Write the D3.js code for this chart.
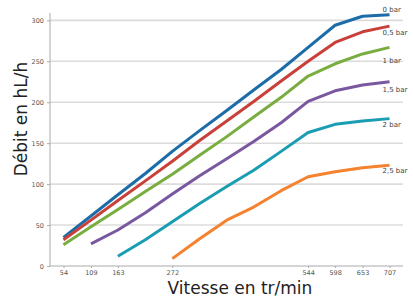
<!DOCTYPE html>
<html lang="fr">
<head>
<meta charset="UTF-8">
<title>Débit en hL/h</title>
<script src="https://d3js.org/d3.v7.min.js"></script>
<style>
    body { margin: 0; background: #fff; }
    .tick-label { font: 6.5px "DejaVu Sans", sans-serif; fill: #555; }
    .series-label { font: 7px "DejaVu Sans", sans-serif; fill: #444; }
    .axis-title { font: 17px "DejaVu Sans", sans-serif; fill: #222; }
</style>
</head>
<body>
<svg width="413" height="299"></svg>
<script>
// speeds (tr/min) and flows (hL/h) per pressure
const speeds = [54, 109, 163, 218, 272, 326, 381, 435, 490, 544, 598, 653, 707];
const xTickValues = [54, 109, 163, 272, 544, 598, 653, 707];
const yTickValues = [0, 50, 100, 150, 200, 250, 300];
const seriesNames = ["0 bar", "0,5 bar", "1 bar", "1,5 bar", "2 bar", "2,5 bar"];
const bar0  = [35, 61, 87, 113, 140, 165, 190, 215, 240, 267, 294, 305, 307];
const bar05 = [32, 56, 80, 104, 128, 153, 177, 201, 226, 250, 273, 286, 293];
const bar1  = [26, 48, 69, 91, 112, 135, 158, 182, 206, 232, 247, 259, 267];
const bar15 = [null, 27, 44, 65, 88, 110, 131, 152, 175, 201, 214, 221, 225];
const bar2  = [null, null, 12, 32, 54, 76, 97, 117, 140, 163, 173, 177, 180];
const bar25 = [null, null, null, null, 9, 33, 56, 72, 92, 109, 115, 120, 123];

const seriesValues = [bar0, bar05, bar1, bar15, bar2, bar25];
const colors = ["#1b6ca8", "#c9403a", "#7aad3f", "#7a58a0", "#1a9db3", "#f4822f"];
const labelDy = [-3, 9, 16, 10, 8, 8];

const svg = d3.select("svg");

const x = d3.scaleLinear().domain([27, 734]).range([50, 403]);
const y = d3.scaleLinear().domain([0, 309]).range([266, 13]);

// gridlines
svg.append("g")
    .selectAll("line")
    .data(yTickValues.filter(d => d > 0))
  .enter().append("line")
    .attr("x1", x(27)).attr("x2", x(734))
    .attr("y1", d => y(d)).attr("y2", d => y(d))
    .attr("stroke", "#dcdcdc")
    .attr("stroke-width", 1.6);

// y axis
const yAxis = svg.append("g")
    .attr("transform", "translate(" + x(27) + ",0)")
    .call(d3.axisLeft(y).tickValues(yTickValues).tickSize(3).tickPadding(3));
yAxis.select(".domain").attr("stroke", "#aaa").attr("d", "M0," + y(0) + "V" + y(309));
yAxis.selectAll(".tick line").attr("stroke", "#aaa");
yAxis.selectAll("text").attr("class", "tick-label").attr("font-size", null).attr("font-family", null);

// x axis
const xAxis = svg.append("g")
    .attr("transform", "translate(0," + y(0) + ")")
    .call(d3.axisBottom(x).tickValues(xTickValues).tickSize(2).tickPadding(2));
xAxis.select(".domain").attr("stroke", "#aaa").attr("d", "M" + x(27) + ",0H" + x(734));
xAxis.selectAll(".tick line").attr("stroke", "#aaa");
xAxis.selectAll("text").attr("class", "tick-label").attr("font-size", null).attr("font-family", null);

// lines
const line = d3.line()
    .defined(d => d[1] != null)
    .x(d => x(d[0]))
    .y(d => y(d[1]));

seriesValues.forEach((vals, i) => {
    const pts = speeds.map((s, j) => [s, vals[j]]);
    svg.append("path")
        .datum(pts)
        .attr("fill", "none")
        .attr("stroke", colors[i])
        .attr("stroke-width", 3)
        .attr("stroke-linejoin", "round")
        .attr("d", line);

    svg.append("text")
        .attr("class", "series-label")
        .attr("x", x(707) - 7)
        .attr("y", y(vals[vals.length - 1]) + labelDy[i])
        .text(seriesNames[i]);
});

// axis titles
svg.append("text")
    .attr("class", "axis-title")
    .attr("text-anchor", "middle")
    .attr("transform", "translate(27,119) rotate(-90)")
    .text("Débit en hL/h");

svg.append("text")
    .attr("class", "axis-title")
    .attr("text-anchor", "middle")
    .attr("x", 240)
    .attr("y", 294)
    .text("Vitesse en tr/min");
</script>
</body>
</html>
